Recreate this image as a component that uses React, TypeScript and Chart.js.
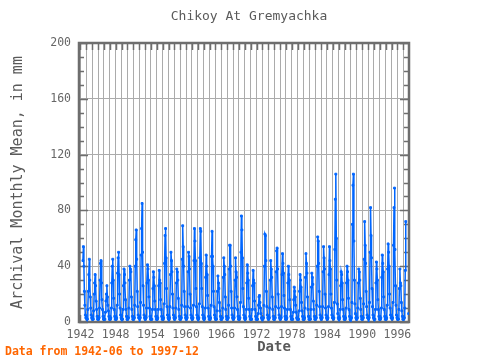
import { useEffect, useRef } from 'react';
import { Chart, registerables } from 'chart.js';

Chart.register(...registerables);

const TITLE = 'Chikoy At Gremyachka';
const Y_TITLE = 'Archival Monthly Mean, in mm';
const X_TITLE = 'Date';
const NOTE = 'Data from 1942-06 to 1997-12';

// first value is June 1942, then one value per month
const START_YEAR = 1942;
const START_MONTH = 6;

const flow1942to1949: (number | null)[] = [
  44, 54, 40, 22, 12, 5, 3,
  3, 2, 2, 9, 22, 34, 45, 30, 18, 10, 5, 3,
  2, 2, 2, 8, 20, 28, 34, 26, 15, 9, 4, 2,
  2, 2, 3, 10, 30, 42, 44, 28, 16, 9, 4, 2,
  2, 2, 2, 7, 15, 20, 26, 18, 12, 8, 4, 2,
  2, 2, 3, 10, 28, 40, 45, 30, 17, 9, 4, 2,
  2, 2, 3, 12, 35, 46, 50, 34, 20, 10, 5, 3,
  2, 2, 2, 9, 26, 38, 34, 28, 16, 9, 4, 2,
];
const flow1950s: (number | null)[] = [
  2, 2, 3, 10, 30, 40, 38, 36, 18, 9, 4, 2,
  2, 2, 3, 12, 40, 59, 66, 45, 22, 11, 5, 3,
  3, 2, 3, 14, 48, 67, 85, 50, 26, 12, 5, 3,
  2, 2, 3, 10, 28, 41, 38, 30, 18, 10, 4, 2,
  2, 2, 2, 9, 24, 36, 32, 26, 15, 9, 4, 2,
  2, 2, 3, 9, 26, 37, 30, 28, 16, 9, 4, 2,
  2, 2, 3, 13, 42, 62, 67, 46, 24, 11, 5, 3,
  2, 2, 3, 11, 34, 50, 44, 36, 20, 10, 5, 3,
  2, 2, 3, 10, 28, 38, 36, 30, 17, 9, 4, 2,
  2, 2, 3, 12, 45, 69, 54, 40, 22, 11, 5, 3,
];
const flow1960s: (number | null)[] = [
  2, 2, 3, 11, 36, 50, 47, 38, 20, 10, 5, 3,
  2, 2, 3, 12, 44, 67, 58, 44, 24, 11, 5, 3,
  2, 2, 3, 13, 46, 67, 65, 42, 24, 11, 5, 3,
  2, 2, 3, 10, 32, 48, 40, 34, 19, 10, 4, 2,
  2, 2, 3, 12, 47, 65, 47, 40, 22, 11, 5, 3,
  2, 2, 2, 8, 22, 33, 28, 24, 14, 8, 4, 2,
  2, 2, 3, 10, 32, 46, 40, 34, 18, 9, 4, 2,
  2, 2, 3, 12, 38, 55, 55, 40, 22, 10, 5, 3,
  2, 2, 3, 10, 30, 46, 36, 32, 18, 9, 4, 2,
  2, 2, 3, 14, 50, 76, 66, 46, 24, 11, 5, 3,
];
const flow1970s: (number | null)[] = [
  2, 2, 3, 9, 28, 41, 35, 30, 17, 9, 4, 2,
  2, 2, 2, 9, 26, 37, 30, 28, 15, 9, 4, 2,
  2, 2, 2, 6, 12, 18, 19, 14, 10, 6, 3, 2,
  2, 2, 3, 12, 40, 63, 62, 44, 22, 11, 5, 3,
  2, 2, 3, 10, 30, 44, 38, 32, 18, 9, 4, 2,
  2, 2, 3, 11, 36, 51, 53, 38, 20, 10, 5, 3,
  2, 2, 3, 11, 34, 49, 42, 35, 19, 10, 4, 2,
  2, 2, 3, 9, 28, 40, 34, 30, 16, 9, 4, 2,
  2, 2, 2, 7, 16, 25, 22, 18, 12, 7, 3, 2,
  2, 2, 2, 8, 22, 34, 30, 25, 14, 8, 4, 2,
];
const flow1980s: (number | null)[] = [
  2, 2, 3, 10, 32, 49, 42, 35, 18, 9, 4, 2,
  2, 2, 2, 9, 25, 35, 32, 27, 15, 9, 4, 2,
  2, 2, 3, 12, 40, 61, 58, 42, 22, 11, 5, 3,
  2, 2, 3, 11, 36, 54, 46, 38, 20, 10, 5, 3,
  2, 2, 3, 11, 34, 54, 44, 38, 20, 10, 5, 3,
  3, 2, 3, 14, 52, 88, 106, 60, 30, 13, 6, 3,
  2, 2, 3, 9, 26, 36, 34, 28, 16, 9, 4, 2,
  2, 2, 3, 10, 28, 40, 36, 30, 17, 9, 4, 2,
  3, 2, 3, 14, 70, 98, 106, 58, 30, 13, 6, 3,
  2, 2, 3, 10, 28, 38, 36, 30, 17, 9, 4, 2,
];
const flow1990s: (number | null)[] = [
  2, 2, 3, 13, 45, 72, 55, 42, 22, 11, 5, 3,
  3, 2, 3, 14, 50, 82, 62, 46, 24, 11, 5, 3,
  2, 2, 2, 9, 28, 43, 38, 30, 16, 9, 4, 2,
  2, 2, 3, 10, 32, 48, 42, 36, 18, 9, 4, 2,
  2, 2, 3, 12, 38, 56, 50, 40, 20, 10, 5, 3,
  3, 2, 3, 14, 55, 82, 96, 52, 26, 12, 5, 3,
  2, 2, 2, 9, 24, 38, 28, 26, 14, 8, 4, 2,
  2, 2, 3, 10, 37, 72, null, null, null, null, null, 6,
];

const X_LABEL_YEARS = [1942, 1948, 1954, 1960, 1966, 1972, 1978, 1984, 1990, 1996];
const X_MIN = 1941.75;
const X_MAX = 1997.97;
const Y_MIN = 0;
const Y_MAX = 200;
const Y_STEP = 40;
const Y_MINOR_STEP = 10;

const FONT = "'DejaVu Sans Mono', monospace";

const allValues = [
  ...flow1942to1949,
  ...flow1950s,
  ...flow1960s,
  ...flow1970s,
  ...flow1980s,
  ...flow1990s,
];

const points = allValues.map((v, k) => ({
  x: START_YEAR + (START_MONTH - 1 + k) / 12,
  y: v,
}));

const decor = {
  id: 'decor',
  beforeDatasetsDraw(chart: any) {
    const { ctx, chartArea: a, scales } = chart;
    const xs = scales.x;
    const ys = scales.y;
    ctx.save();
    ctx.strokeStyle = '#6e6e6e';
    ctx.lineWidth = 1.5;
    xs.ticks.forEach((t: any) => {
      const px = Math.round(xs.getPixelForValue(t.value)) + 0.5;
      ctx.beginPath();
      ctx.moveTo(px, a.top);
      ctx.lineTo(px, a.top + 7);
      ctx.moveTo(px, a.bottom);
      ctx.lineTo(px, a.bottom - 7);
      ctx.stroke();
    });
    for (let v = Y_MIN; v <= Y_MAX; v += Y_MINOR_STEP) {
      const py = Math.round(ys.getPixelForValue(v)) + 0.5;
      const len = v % Y_STEP === 0 ? 9 : 5;
      ctx.beginPath();
      ctx.moveTo(a.left, py);
      ctx.lineTo(a.left + len, py);
      ctx.moveTo(a.right, py);
      ctx.lineTo(a.right - len, py);
      ctx.stroke();
    }
    ctx.lineWidth = 2.5;
    ctx.strokeRect(a.left, a.top, a.right - a.left, a.bottom - a.top);
    ctx.restore();
  },
  afterDraw(chart: any) {
    const { ctx, chartArea: a } = chart;
    ctx.save();
    ctx.textBaseline = 'middle';
    ctx.textAlign = 'center';
    ctx.fillStyle = '#5a5a5a';
    ctx.font = `13px ${FONT}`;
    ctx.fillText(TITLE, 249, 17);
    ctx.font = `bold 14px ${FONT}`;
    ctx.fillText(X_TITLE, 274, 347);
    ctx.save();
    ctx.translate(18, (a.top + a.bottom) / 2);
    ctx.rotate(-Math.PI / 2);
    ctx.font = `15px ${FONT}`;
    ctx.fillText(Y_TITLE, 0, 0);
    ctx.restore();
    ctx.textAlign = 'left';
    ctx.fillStyle = '#ff6600';
    ctx.font = `bold 11.5px ${FONT}`;
    ctx.fillText(NOTE, 5, 352);
    ctx.restore();
  },
};

export default function App() {
  const ref = useRef<HTMLCanvasElement | null>(null);

  useEffect(() => {
    if (!ref.current) return;
    const chart = new Chart(ref.current, {
      type: 'line',
      data: {
        datasets: [
          {
            data: points as any,
            borderColor: '#0066ff',
            backgroundColor: '#0066ff',
            borderWidth: 1.5,
            pointStyle: 'rect',
            pointRadius: 1.3,
            pointBorderWidth: 1,
            pointHoverRadius: 0,
            spanGaps: false,
            tension: 0,
          },
        ],
      },
      options: {
        responsive: false,
        animation: false,
        events: [],
        layout: { padding: { top: 43, right: 71, left: 0, bottom: 0 } },
        plugins: {
          legend: { display: false },
          title: { display: false },
          tooltip: { enabled: false },
        },
        scales: {
          x: {
            type: 'linear',
            min: X_MIN,
            max: X_MAX,
            afterFit: (s: any) => {
              s.height = 38;
            },
            border: { display: false },
            grid: { color: '#ababab', lineWidth: 1, drawTicks: false },
            ticks: {
              stepSize: 1,
              includeBounds: false,
              autoSkip: false,
              maxRotation: 0,
              maxTicksLimit: 200,
              padding: 6,
              color: '#666666',
              font: { family: FONT, size: 11.5 },
              callback: (v: any) => {
                const yr = Math.round(Number(v));
                return X_LABEL_YEARS.includes(yr) ? String(yr) : '';
              },
            },
          },
          y: {
            min: Y_MIN,
            max: Y_MAX,
            afterFit: (s: any) => {
              s.width = 79;
            },
            border: { display: false },
            grid: { color: '#ababab', lineWidth: 1, drawTicks: false },
            ticks: {
              stepSize: Y_STEP,
              padding: 8,
              color: '#666666',
              font: { family: FONT, size: 11.5 },
            },
          },
        },
      },
      plugins: [decor],
    });
    return () => chart.destroy();
  }, []);

  return (
    <div style={{ position: 'absolute', left: 0, top: 0, width: 480, height: 360 }}>
      <canvas ref={ref} width={480} height={360} style={{ display: 'block' }} />
    </div>
  );
}
